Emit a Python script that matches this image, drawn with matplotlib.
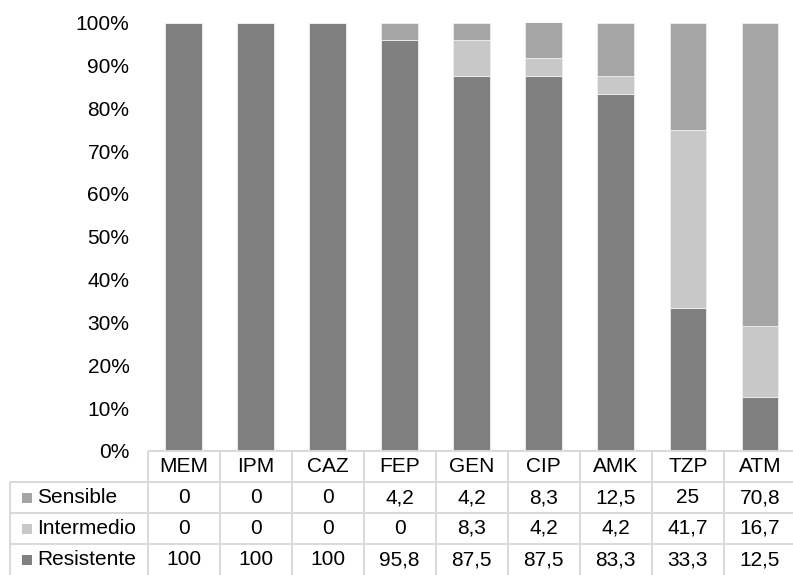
import numpy as np
import matplotlib
matplotlib.use('Agg')
import matplotlib.pyplot as plt
import matplotlib.transforms as mtransforms
from matplotlib.ticker import PercentFormatter
from matplotlib.patches import Rectangle

plt.rcParams['font.family'] = ['Liberation Sans', 'DejaVu Sans']

# data
antibiotics = ['MEM', 'IPM', 'CAZ', 'FEP', 'GEN', 'CIP', 'AMK', 'TZP', 'ATM']
sensible = [0, 0, 0, 4.2, 4.2, 8.3, 12.5, 25, 70.8]
intermedio = [0, 0, 0, 0, 8.3, 4.2, 4.2, 41.7, 16.7]
resistente = [100, 100, 100, 95.8, 87.5, 87.5, 83.3, 33.3, 12.5]
series = ['Sensible', 'Intermedio', 'Resistente']
colors = {'Sensible': '#A5A5A5', 'Intermedio': '#C8C8C8', 'Resistente': '#808080'}

W, H = 793, 575
fs = 15
grid_c = '#D9D9D9'

fig = plt.figure(figsize=(W / 100, H / 100), dpi=100)
# plot area in pixels
x0, x1 = 147.5, 796
ytop, ybot = 22.5, 451
ax = fig.add_axes([x0 / W, 1 - ybot / H, (x1 - x0) / W, (ybot - ytop) / H])

x = np.arange(len(antibiotics))
r = np.array(resistente) / 100
i_ = np.array(intermedio) / 100
s = np.array(sensible) / 100
bw = 0.51
ax.bar(x, r, bw, color=colors['Resistente'], edgecolor='#EEEEEE', linewidth=0.6)
ax.bar(x, i_, bw, bottom=r, color=colors['Intermedio'], edgecolor='#EEEEEE', linewidth=0.6)
ax.bar(x, s, bw, bottom=r + i_, color=colors['Sensible'], edgecolor='#EEEEEE', linewidth=0.6)

ax.set_xlim(-0.5, len(antibiotics) - 0.5)
ax.set_ylim(0, 1)
ax.set_yticks(np.arange(0, 1.01, 0.1))
ax.yaxis.set_major_formatter(PercentFormatter(1.0, decimals=0))
ax.tick_params(axis='y', length=0, pad=13, labelsize=fs)
ax.set_xticks([])
for sp in ax.spines.values():
    sp.set_visible(False)

# table below the plot
trans = mtransforms.blended_transform_factory(ax.transData, ax.transAxes)
colw = (x1 - x0) / len(antibiotics)


def ya(py):
    return (ybot - py) / (ybot - ytop)


def xd(px):
    return -0.5 + (px - x0) / colw


row_lines = [451, 482, 513, 544, 575]
lk = dict(color=grid_c, lw=1.4, transform=trans, clip_on=False, solid_capstyle='butt')
# header
ax.plot([xd(x0), xd(x1)], [ya(451), ya(451)], **lk)
for k in range(len(antibiotics) + 1):
    ax.plot([xd(x0 + k * colw)] * 2, [ya(451), ya(580)], **lk)
for py in row_lines[1:4]:
    ax.plot([xd(10), xd(x1)], [ya(py), ya(py)], **lk)
ax.plot([xd(10)] * 2, [ya(482), ya(580)], **lk)

for j, name in enumerate(antibiotics):
    ax.text(j, ya(466.5), name, ha='center', va='center', fontsize=fs, transform=trans)


def fmt(v):
    if float(v).is_integer():
        return str(int(v))
    return ('%.1f' % v).replace('.', ',')


rows = [sensible, intermedio, resistente]
for k, (name, vals) in enumerate(zip(series, rows)):
    yc = (row_lines[k + 1] + row_lines[k + 2]) / 2
    ax.add_patch(Rectangle((xd(22), ya(yc + 5)), xd(32) - xd(22), ya(yc - 5) - ya(yc + 5),
                           facecolor=colors[name], edgecolor='none', transform=trans, clip_on=False))
    ax.text(xd(37), ya(yc), name, ha='left', va='center', fontsize=fs, transform=trans)
    for j, v in enumerate(vals):
        ax.text(j, ya(yc), fmt(v), ha='center', va='center', fontsize=fs, transform=trans)

fig.savefig('out.png', dpi=100)
